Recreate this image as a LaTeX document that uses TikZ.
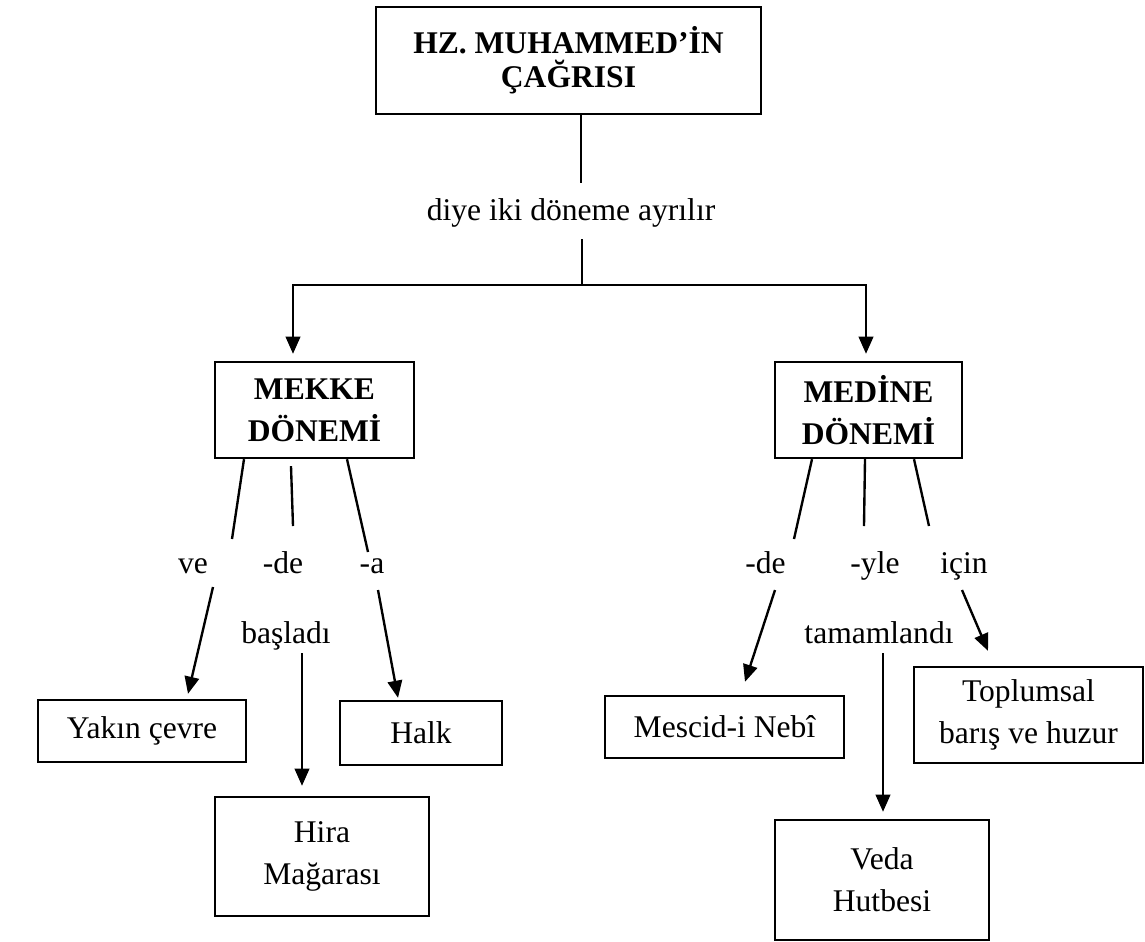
\documentclass[tikz,border=0pt]{standalone}
\usepackage{fontspec}
\setmainfont{Liberation Serif}
\usetikzlibrary{calc,arrows.meta}
\newdimen\px \px=0.38pt

\begin{document}
\begin{tikzpicture}[x=0.38pt,y=-0.38pt,line width=0.9pt,
  >={Triangle[length=6.5pt,width=5.5pt]},
  kutu/.style={draw,align=center,inner sep=0pt,font=\fontsize{12}{16}\selectfont},
  baslik/.style={kutu,font=\bfseries\fontsize{12}{16}\selectfont},
  ek/.style={anchor=base,inner sep=0pt,font=\fontsize{12}{14}\selectfont}]
\useasboundingbox (0,0) rectangle (1145,941);

% ana kutu
\node[baslik,font=\bfseries\fontsize{12}{13}\selectfont,minimum width=385\px,minimum height=107\px] (cagri) at (568.5,60.5) {HZ. MUHAMMED’İN\\ÇAĞRISI};
\node[ek] (diye) at (571,220) {diye iki döneme ayrılır};
\coordinate (ayrim) at (582,285);

% iki donem
\node[baslik,minimum width=199\px,minimum height=96\px] (mekke) at (314.5,410) {MEKKE\\DÖNEMİ};
\node[baslik,minimum width=187\px,minimum height=96\px] (medine) at (868.5,410) {MEDİNE\\DÖNEMİ};

% ekler
\node[ek] (ve) at (193,573) {ve};
\node[ek] (deA) at (283,573) {-de};
\node[ek] (aA) at (372,573) {-a};
\node[ek] (basladi) at (286,643) {başladı};
\node[ek] (deB) at (765.5,573) {-de};
\node[ek] (yle) at (875,573) {-yle};
\node[ek] (icin) at (964,573) {için};
\node[ek] (tamam) at (879,643) {tamamlandı};

% alt kutular
\node[kutu,minimum width=208\px,minimum height=62\px] (yakin) at (142,731) {Yakın çevre};
\node[kutu,minimum width=162\px,minimum height=64\px] (halk) at (421,733) {Halk};
\node[kutu,minimum width=214\px,minimum height=119\px] (hira) at (322,856.5) {Hira\\Mağarası};
\node[kutu,minimum width=239\px,minimum height=62\px] (mescid) at (724.5,727) {Mescid-i Nebî};
\node[kutu,minimum width=229\px,minimum height=96\px] (toplum) at (1028.5,715) {Toplumsal\\barış ve huzur};
\node[kutu,minimum width=214\px,minimum height=120\px] (veda) at (882,880) {Veda\\Hutbesi};

% baglantilar
\draw ($(cagri.south)+(12.5,0)$) -- ($(diye.base)+(10,-37)$);
\draw ($(diye.base)+(11,19)$) -- (ayrim);
\draw[->] (ayrim) -| ($(mekke.north)+(-21.5,-7)$);
\draw[->] (ayrim) -| ($(medine.north)+(-2.5,-7)$);

\draw ($(mekke.south)+(-70.5,0)$) -- ($(ve.base)+(39,-34)$);
\draw ($(mekke.south)+(-23.5,7)$) -- ($(deA.base)+(10,-47)$);
\draw ($(mekke.south)+(32.5,0)$) -- ($(aA.base)+(-4,-21)$);
\draw[->] ($(ve.base)+(20,14)$) -- ($(yakin.north)+(46,-5)$);
\draw[->] ($(basladi.base)+(16,10)$) -- ($(hira.north)+(-20,-10)$);
\draw[->] ($(aA.base)+(6,17)$) -- ($(halk.north)+(-23,-2)$);

\draw ($(medine.south)+(-56.5,0)$) -- ($(deB.base)+(28.5,-34)$);
\draw ($(medine.south)+(-3.5,0)$) -- ($(yle.base)+(-11,-47)$);
\draw ($(medine.south)+(45.5,0)$) -- ($(icin.base)+(-35,-47)$);
\draw[->] ($(deB.base)+(9.5,17)$) -- ($(mescid.north)+(20.5,-13)$);
\draw[->] ($(tamam.base)+(4,10)$) -- ($(veda.north)+(1,-7)$);
\draw[->] ($(icin.base)+(-2,17)$) -- ($(toplum.north)+(-40.5,-15)$);
\end{tikzpicture}
\end{document}
